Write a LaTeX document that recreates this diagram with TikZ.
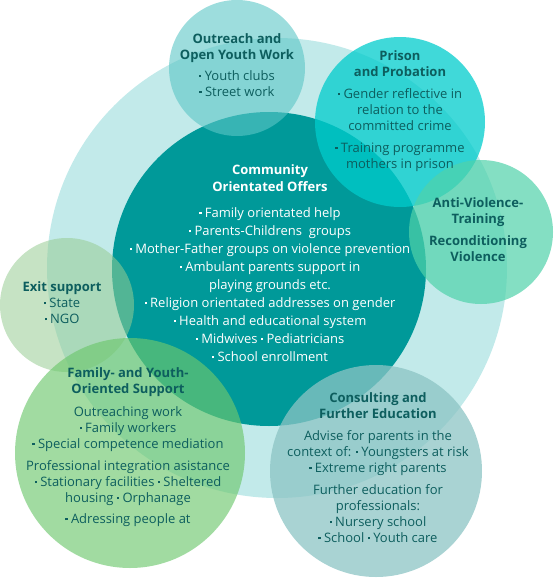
\documentclass[tikz,border=0pt]{standalone}
\usepackage{fontspec}
\setmainfont{Open Sans}
\usepackage{graphicx}
\definecolor{bgcyan}{HTML}{C2EAEA}
\definecolor{teal}{HTML}{009999}
\definecolor{outreach}{HTML}{5CC6C6}
\definecolor{prison}{HTML}{00CCCC}
\definecolor{antiviol}{HTML}{50D2AA}
\definecolor{exitsup}{HTML}{97CC93}
\definecolor{family}{HTML}{6EC86E}
\definecolor{consult}{HTML}{8CC4C4}
\definecolor{darktxt}{HTML}{0D5E5E}
\newcommand{\bl}{\rule[0.22em]{0.17em}{0.17em}\ }
\newcommand{\hd}[1]{\textbf{#1}}
\tikzset{
  txt/.style={align=center, inner sep=0pt, anchor=north, text=darktxt,
    font=\fontsize{13}{16}\selectfont},
  blob/.style={fill=#1, fill opacity=0.65}
}
\begin{document}
\begin{tikzpicture}[x=1pt,y=-1pt]
            \useasboundingbox (0,0) rectangle (554,581);
            \fill[bgcyan] (277,268) circle[radius=230];
            \fill[teal] (269,269) circle[radius=157];
            \fill[blob=outreach, fill opacity=0.6] (237,68) circle[radius=68];
            \fill[blob=prison, fill opacity=0.75] (400,122) circle[radius=85];
            \fill[blob=antiviol, fill opacity=0.7] (481,232) circle[radius=72];
            \fill[blob=exitsup, fill opacity=0.55] (67,305) circle[radius=67];
            \fill[blob=family] (130,453) circle[radius=115];
            \fill[blob=consult, fill opacity=0.75] (376,471) circle[radius=106];
            \node[txt] (outreachtxt) at (237,33) {\hd{Outreach and}\\\hd{Open Youth Work}\\[5pt]
                \bl Youth clubs\\\bl Street work};
            \node[txt] (prisontxt) at (400,50) {\hd{Prison}\\\hd{and Probation}\\[6pt]
                \bl Gender reflective in\\relation to the\\committed crime\\[6pt]
                \bl Training programme\\mothers in prison};
            \node[txt] (antitxt) at (478,197) {\hd{Anti-Violence-}\\\hd{Training}\\[6pt]
                \hd{Reconditioning}\\\hd{Violence}};
            \node[txt, text=white, font=\fontsize{13}{18}\selectfont] (communitytxt) at (270,164)
                {\hd{Community}\\[-1pt]\hd{Orientated Offers}\\[8pt]
                \bl Family orientated help\\\bl Parents-Childrens\ \ groups\\
                \bl Mother-Father groups on violence prevention\\
                \bl Ambulant parents support in\\playing grounds etc.\\
                \bl Religion orientated addresses on gender\\
                \bl Health and educational system\\
                \bl Midwives \bl Pediatricians\\\bl School enrollment};
            \node[txt] (exittxt) at (62,281) {\hd{Exit support}\\\bl State\\\bl NGO};
            \node[txt] (familytxt) at (128,367) {\hd{Family- and Youth-}\\\hd{Oriented Support}\\[7pt]
                Outreaching work\\\bl Family workers\\\bl Special competence mediation\\[6pt]
                Professional integration asistance\\\bl Stationary facilities \bl Sheltered\\
                housing \bl Orphanage\\[5pt]\bl Adressing people at};
            \node[txt] (consulttxt) at (378,392) {\hd{Consulting and}\\\hd{Further Education}\\[6pt]
                Advise for parents in the\\context of: \bl Youngsters at risk\\
                \bl Extreme right parents\\[6pt]
                Further education for\\professionals:\\\bl Nursery school\\
                \bl School \bl Youth care};
        \end{tikzpicture}
\end{document}
